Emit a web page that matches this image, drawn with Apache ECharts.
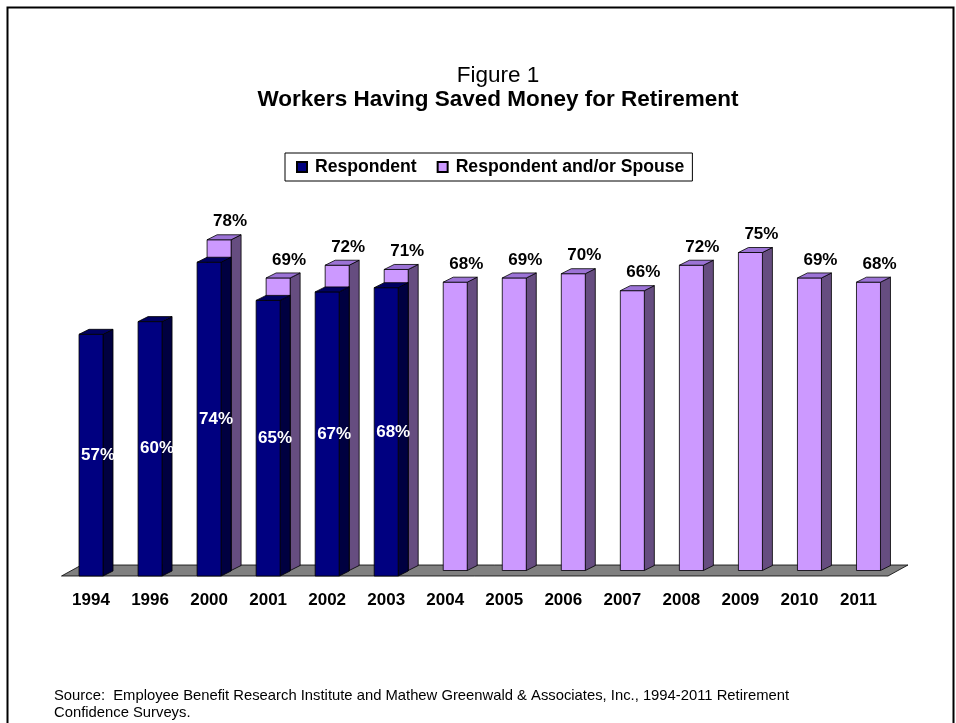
<!DOCTYPE html>
<html>
<head>
<meta charset="utf-8">
<script src="https://cdn.jsdelivr.net/npm/echarts@6/dist/echarts.min.js"></script>
<style>
html,body{margin:0;padding:0;background:#fff;}
#chart{width:956px;height:723px;}
</style>
</head>
<body>
<div id="chart"></div>
<script>
// ---- data ----
var years = ['1994','1996','2000','2001','2002','2003','2004','2005','2006','2007','2008','2009','2010','2011'];
var respondent = [57, 60, 74, 65, 67, 68, null, null, null, null, null, null, null, null];
var respondentOrSpouse = [null, null, 78, 69, 72, 71, 68, 69, 70, 66, 72, 75, 69, 68];
var seriesNames = ['Respondent', 'Respondent and/or Spouse'];
var sourceLines = ['Source:  Employee Benefit Research Institute and Mathew Greenwald & Associates, Inc., 1994-2011 Retirement', 'Confidence Surveys.'];

// ---- styling / geometry (not data) ----
var FONT = '"Liberation Sans", Arial, sans-serif';
var ROW_DX = 10, ROW_DY = -5.5;   // depth offset between rows
var BAR_DX = 10, BAR_DY = -5;     // depth of each box
var BAR_W = 24;

function toPairs(arr){
  var out = [];
  arr.forEach(function(v,i){ if (v !== null) out.push([i, v]); });
  return out;
}

function barRenderer(row, front, side, topc, labelPos, labelColor, labelDx){
  return function(params, api){
    var idx = api.value(0), v = api.value(1);
    var p = api.coord([idx, v]);
    var b = api.coord([idx, 0]);
    var ox = row*ROW_DX, oy = row*ROW_DY;
    var x0 = b[0] - BAR_W/2 + ox, x1 = x0 + BAR_W;
    var yb = b[1] + oy, yt = p[1] + oy;
    var stroke = {stroke:'#000', lineWidth:0.8};
    var children = [
      {type:'polygon', shape:{points:[[x1,yb],[x1+BAR_DX,yb+BAR_DY],[x1+BAR_DX,yt+BAR_DY],[x1,yt]]},
        style:Object.assign({fill:side}, stroke)},
      {type:'rect', shape:{x:x0, y:yt, width:BAR_W, height:yb-yt},
        style:Object.assign({fill:front}, stroke)},
      {type:'polygon', shape:{points:[[x0,yt],[x1,yt],[x1+BAR_DX,yt+BAR_DY],[x0+BAR_DX,yt+BAR_DY]]},
        style:Object.assign({fill:topc}, stroke)}
    ];
    var ly = labelPos === 'inside' ? (yt+yb)/2 : yt - 18;
    children.push({type:'text', style:{
      text: v + '%', x: x0 + BAR_W/2 + labelDx, y: ly,
      align:'center', verticalAlign:'middle',
      font:'bold 17px ' + FONT, fill: labelColor
    }});
    return {type:'group', children:children};
  };
}

var chart = echarts.init(document.getElementById('chart'), null, {renderer:'canvas'});
chart.setOption({
  backgroundColor:'#fff',
  animation:false,
  title:[
    {text:'Figure 1', left:493, textAlign:'center', top:59, textStyle:{fontFamily:FONT, fontWeight:'normal', fontSize:22.5, color:'#000'}},
    {text:'Workers Having Saved Money for Retirement', left:493, textAlign:'center', top:83, textStyle:{fontFamily:FONT, fontWeight:'bold', fontSize:22.5, color:'#000'}}
  ],
  legend:{
    data:seriesNames,
    left:285, top:153,
    orient:'horizontal',
    icon:'rect', itemWidth:10, itemHeight:10, itemGap:20,
    borderColor:'#000', borderWidth:1,
    padding:[5,8,5,11],
    textStyle:{fontFamily:FONT, fontWeight:'bold', fontSize:17.6, color:'#000', padding:[0,0,0,3]}
  },
  grid:{left:61.5, right:68, top:152, bottom:147, containLabel:false},
  xAxis:{
    type:'category', data:years,
    axisLine:{show:false}, axisTick:{show:false}, splitLine:{show:false},
    axisLabel:{margin:16, fontFamily:FONT, fontWeight:'bold', fontSize:17, color:'#000'}
  },
  yAxis:{type:'value', min:0, max:100, show:false},
  graphic:[
    {type:'rect', left:5, top:5, shape:{x:0,y:0,width:946,height:740}, style:{fill:null, stroke:'#000', lineWidth:2}, z:-10},
    {type:'text', left:54, top:687, style:{text:sourceLines.join('\n'), font:'14.8px ' + FONT, fill:'#000', lineHeight:17}}
  ],
  series:[
    {
      type:'custom', name:'floor', silent:true, z:1,
      data:[[0,0]],
      renderItem:function(params, api){
        var cs = params.coordSys;
        var yb = cs.y + cs.height, xl = cs.x, xr = cs.x + cs.width;
        return {type:'polygon', shape:{points:[[xl,yb],[xr,yb],[xr+2*ROW_DX,yb+2*ROW_DY],[xl+2*ROW_DX,yb+2*ROW_DY]]},
          style:{fill:'#808080', stroke:'#000', lineWidth:0.8}};
      }
    },
    {
      type:'custom', name:seriesNames[1], z:2,
      itemStyle:{color:'#CC99FF', borderColor:'#000', borderWidth:1},
      encode:{x:0, y:1},
      data:toPairs(respondentOrSpouse),
      renderItem:barRenderer(1, '#CC99FF', '#664D80', '#9C73D6', 'above', '#000', 11)
    },
    {
      type:'custom', name:seriesNames[0], z:3,
      itemStyle:{color:'#000080', borderColor:'#000', borderWidth:1},
      encode:{x:0, y:1},
      data:toPairs(respondent),
      renderItem:barRenderer(0, '#000080', '#000040', '#000060', 'inside', '#fff', 7)
    }
  ]
});
</script>
</body>
</html>
